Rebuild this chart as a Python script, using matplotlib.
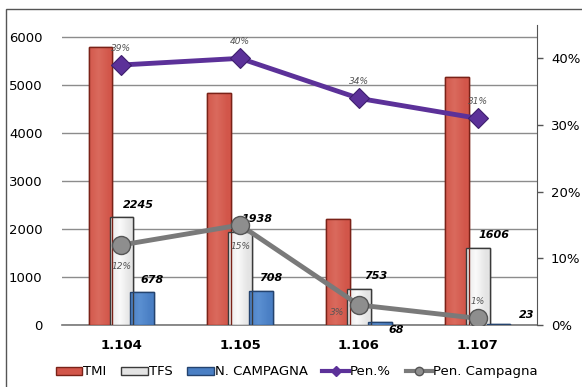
import matplotlib
matplotlib.use("Agg")
import matplotlib.pyplot as plt
import numpy as np
from matplotlib.lines import Line2D
from matplotlib.patches import Patch, Rectangle

# --- data -------------------------------------------------------------
categories = ["1.104", "1.105", "1.106", "1.107"]
tmi = [5800, 4830, 2200, 5170]
tfs = [2245, 1938, 753, 1606]
n_campagna = [678, 708, 68, 23]
pen_pct = [0.39, 0.40, 0.34, 0.31]
pen_campagna = [0.12, 0.15, 0.03, 0.01]

left_ticks = [0, 1000, 2000, 3000, 4000, 5000, 6000]
right_ticks = [0, 0.1, 0.2, 0.3, 0.4]

RED, RED_EDGE = "#D2564A", "#7A2218"
BLUE, BLUE_EDGE = "#4A7FC4", "#24436E"
GREY_FILL, GREY_EDGE = "#E4E4E4", "#3A3A3A"
PURPLE = "#5C3199"
LINE_GREY = "#7A7A7A"

plt.rcParams["font.family"] = ["DejaVu Sans"]

fig = plt.figure(figsize=(5.82, 3.87), dpi=100)
fig.patch.set_facecolor("white")
# outer chart frame
fig.add_artist(Rectangle((6 / 582, -0.05), 1.2, (377 + 20) / 387, transform=fig.transFigure,
                         fill=False, ec="#555555", lw=1.0))

ax = fig.add_axes([62 / 582, 62 / 387, 475 / 582, 300 / 387])
x = np.arange(len(categories))
w, off = 0.2, 0.175


def shaded_bars(xs, heights, color, edge, light):
    bars = ax.bar(xs, heights, w, color=color, edgecolor=edge, lw=1.0, zorder=3)
    # soft horizontal gradient inside each bar for the bevelled look
    grad = np.linspace(0, 1, 64)
    prof = np.clip(1 - np.abs(grad - 0.4) * 2.2, 0, 1)
    cmap = matplotlib.colors.LinearSegmentedColormap.from_list("b", [color, light])
    for b in bars:
        if b.get_height() <= 0:
            continue
        im = ax.imshow(prof[None, :], extent=(b.get_x(), b.get_x() + b.get_width(), 0, b.get_height()),
                       aspect="auto", cmap=cmap, vmin=0, vmax=1, zorder=3.1)
        im.set_clip_path(b)
        ax.bar(b.get_x() + b.get_width() / 2, b.get_height(), w, fill=False,
               edgecolor=edge, lw=1.0, zorder=3.2)
    return bars


shaded_bars(x - off, tmi, RED, RED_EDGE, "#DA6A5D")
shaded_bars(x, tfs, GREY_FILL, GREY_EDGE, "#FAFAFA")
shaded_bars(x + off, n_campagna, BLUE, BLUE_EDGE, "#5B90D2")

ax.set_xlim(-0.5, 3.5)
ax.set_ylim(0, 6250)
ax.set_yticks(left_ticks)
ax.set_xticks(x)
ax.set_xticklabels(categories, fontweight="bold", fontsize=9.5)
ax.tick_params(axis="x", length=0, pad=10)
ax.tick_params(axis="y", length=0, pad=14, labelsize=9.5)
ax.grid(axis="y", color="#8C8C8C", lw=1.0, zorder=0)
for s in ["top", "right", "left"]:
    ax.spines[s].set_visible(False)
ax.spines["bottom"].set_color("#777777")
ax.spines["bottom"].set_linewidth(1.2)

# value labels on TFS and N. CAMPAGNA bars
for xi, v in zip(x, tfs):
    ax.annotate(str(v), (xi, v), xytext=(12, 7), textcoords="offset points",
                ha="center", fontsize=8, fontweight="bold", fontstyle="italic")
camp_offsets = [(7, 7), (7, 7), (12, -8), (20, 4)]
for xi, v, o in zip(x, n_campagna, camp_offsets):
    ax.annotate(str(v), (xi + off, v), xytext=o, textcoords="offset points",
                ha="center", fontsize=8, fontweight="bold", fontstyle="italic")

# --- percentage lines on the secondary axis ----------------------------
ax2 = ax.twinx()
ax2.set_ylim(0, 0.45)
ax2.set_yticks(right_ticks)
ax2.set_yticklabels([f"{t:.0%}" for t in right_ticks])
ax2.tick_params(axis="y", length=4, width=1, color="#555555", pad=6, labelsize=9.5)
for s in ["top", "left", "bottom"]:
    ax2.spines[s].set_visible(False)
ax2.spines["right"].set_color("#555555")

ax2.plot(x, pen_pct, color=PURPLE, lw=3.5, marker="D", ms=10, mfc=PURPLE,
         mec="#3E1F6E", mew=0.8, zorder=5)
ax2.plot(x, pen_campagna, color=LINE_GREY, lw=3.5, marker="o", ms=13, mfc="#8E8E8E",
         mec="#555555", mew=1.0, zorder=5)

for xi, v in zip(x, pen_pct):
    ax2.annotate(f"{v:.0%}", (xi, v), xytext=(0, 10), textcoords="offset points",
                 ha="center", fontsize=6.5, fontstyle="italic", color="#555555")
pc_offsets = [(0, -17), (0, -17), (-16, -7), (0, 10)]
for xi, v, o in zip(x, pen_campagna, pc_offsets):
    ax2.annotate(f"{v:.0%}", (xi, v), xytext=o, textcoords="offset points",
                 ha="center", fontsize=6.5, fontstyle="italic", color="#555555")

# --- legend -------------------------------------------------------------
handles = [
    Patch(facecolor=RED, edgecolor=RED_EDGE, label="TMI"),
    Patch(facecolor=GREY_FILL, edgecolor=GREY_EDGE, label="TFS"),
    Patch(facecolor=BLUE, edgecolor=BLUE_EDGE, label="N. CAMPAGNA"),
    Line2D([], [], color=PURPLE, lw=3, marker="D", ms=5, label="Pen.%"),
    Line2D([], [], color=LINE_GREY, lw=3, marker="o", ms=6, mfc="#8E8E8E", mec="#555555",
           label="Pen. Campagna"),
]
fig.legend(handles=handles, loc="center", bbox_to_anchor=(0.51, 0.039), ncol=5,
           frameon=False, fontsize=9.5, handlelength=2.0, handleheight=0.6,
           handletextpad=0.1, columnspacing=1.1)

fig.savefig("out.png", dpi=100)
